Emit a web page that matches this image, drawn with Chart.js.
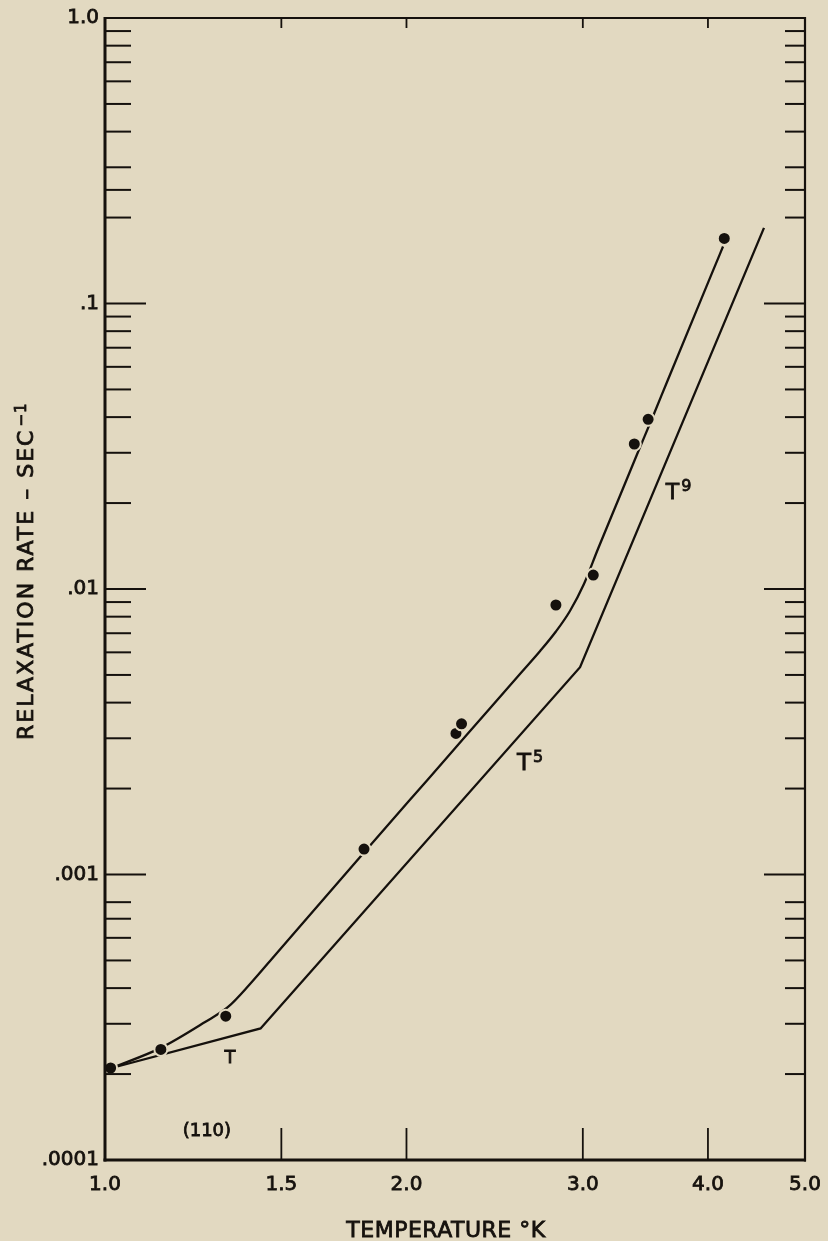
<!DOCTYPE html>
<html><head><meta charset="utf-8">
<script src="https://cdn.jsdelivr.net/npm/chart.js@4/dist/chart.umd.min.js"></script>
<style>html,body{margin:0;padding:0;background:#e2d9c1;}canvas{display:block;}</style>
</head><body>
<canvas id="c" width="828" height="1241"></canvas>
<script>
// ---- data ----
const pointTemperature = [1.013, 1.137, 1.320, 1.814, 2.241, 2.270, 2.820, 3.073, 3.377, 3.486, 4.153];
const pointRate = [2.10e-4, 2.44e-4, 3.19e-4, 1.228e-3, 3.12e-3, 3.37e-3, 8.79e-3, 1.119e-2, 3.22e-2, 3.93e-2, 0.169];

const fitTemperature = [1.0155, 1.137, 1.2587, 1.327, 1.3958, 1.4848, 1.814, 2.0966, 2.2987, 2.5963, 2.7196, 2.82, 2.9125, 3.0078, 3.1062, 3.2675, 3.397, 3.526, 3.6408, 4.0468, 4.141];
const fitRate = [2.10e-4, 2.47e-4, 3.043e-4, 3.435e-4, 4.134e-4, 5.311e-4, 1.1943e-3, 2.136e-3, 3.09e-3, 5.038e-3, 6.064e-3, 7.097e-3, 8.375e-3, 0.010412, 0.013807, 0.021211, 0.029536, 0.040355, 0.05311, 0.1303, 0.15835];

const powerTemperature = [1.0155, 1.43, 2.981, 4.55];
const powerRate = [2.10e-4, 2.89e-4, 5.32e-3, 0.184];

const xTickValues = [1.0, 1.5, 2.0, 3.0, 4.0, 5.0];
const xTickLabels = ['1.0', '1.5', '2.0', '3.0', '4.0', '5.0'];
const yTickValues = [0.0001, 0.001, 0.01, 0.1, 1.0];
const yTickLabels = ['.0001', '.001', '.01', '.1', '1.0'];
const yMinorTicks = [
  0.9, 0.8, 0.7, 0.6, 0.5, 0.4, 0.3, 0.25, 0.2,
  0.09, 0.08, 0.07, 0.06, 0.05, 0.04, 0.03, 0.02,
  0.009, 0.008, 0.007, 0.006, 0.005, 0.004, 0.003, 0.002,
  0.0008, 0.0007, 0.0006, 0.0005, 0.0004, 0.0003, 0.0002
];

const xTitle = 'TEMPERATURE °K';
const yTitle = 'RELAXATION RATE – SEC';
const yTitleSup = '−1';
const curveLabels = [
  { text: 'T', sup: '', t: 1.333, r: 2.30e-4 },
  { text: 'T', sup: '5', t: 2.62, r: 2.48e-3 },
  { text: 'T', sup: '9', t: 3.687, r: 0.0221 },
  { text: '(110)', sup: '', t: 1.264, r: 1.284e-4 }
];

// ---- styles ----
const INK = '#15110d';
const BG = '#e2d9c1';
const FONT = 'DejaVu Sans';
const labelSizes = [18, 23, 22, 18];

const decor = {
  id: 'decor',
  beforeDraw(chart) {
    const ctx = chart.ctx;
    ctx.save();
    ctx.fillStyle = BG;
    ctx.fillRect(0, 0, chart.width, chart.height);
    ctx.restore();
  },
  afterDatasetsDraw(chart) {
    const { ctx, chartArea: a, scales: { x, y } } = chart;
    ctx.save();
    ctx.strokeStyle = INK;
    ctx.fillStyle = INK;
    ctx.lineCap = 'butt';
    const seg = (x1, y1, x2, y2, w) => {
      ctx.lineWidth = w; ctx.beginPath(); ctx.moveTo(x1, y1); ctx.lineTo(x2, y2); ctx.stroke();
    };
    const txt = (s, px, py) => { ctx.lineWidth = 0.8; ctx.strokeText(s, px, py); ctx.fillText(s, px, py); };
    // frame
    seg(a.left, a.top - 1, a.left, a.bottom + 1.5, 3);
    seg(a.left - 1.5, a.bottom, a.right + 1, a.bottom, 3);
    seg(a.left, a.top, a.right + 1, a.top, 2);
    seg(a.right, a.top - 1, a.right, a.bottom + 1.5, 2.2);
    // y ticks
    yTickValues.forEach(v => {
      const py = y.getPixelForValue(v);
      seg(a.left, py, a.left + 41, py, 2);
      seg(a.right - 41, py, a.right, py, 2);
    });
    yMinorTicks.forEach(v => {
      const py = y.getPixelForValue(v);
      seg(a.left, py, a.left + 26, py, 2);
      seg(a.right - 20, py, a.right, py, 2);
    });
    // x ticks
    xTickValues.forEach(v => {
      if (v <= xTickValues[0] || v >= xTickValues[xTickValues.length - 1]) return;
      const px = x.getPixelForValue(v);
      seg(px, a.bottom, px, a.bottom - 32, 1.8);
      seg(px, a.top, px, a.top + 10, 1.8);
    });
    // curve labels
    curveLabels.forEach((l, i) => {
      const size = labelSizes[i];
      const cx = x.getPixelForValue(l.t);
      const cy = y.getPixelForValue(l.r);
      ctx.font = size + 'px "' + FONT + '"';
      ctx.textAlign = 'center';
      ctx.textBaseline = 'alphabetic';
      const base = cy + 0.3645 * size;
      txt(l.text, cx, base);
      if (l.sup) {
        const w = ctx.measureText(l.text).width;
        ctx.font = '16px "' + FONT + '"';
        ctx.textAlign = 'left';
        txt(l.sup, cx + w / 2 + 2, base - 8);
      }
    });
    // x title
    ctx.font = '22px "' + FONT + '"';
    ctx.letterSpacing = '0.5px';
    ctx.textAlign = 'center';
    ctx.textBaseline = 'alphabetic';
    txt(xTitle, 446, 1237);
    // y title
    ctx.save();
    ctx.translate(33, 740);
    ctx.rotate(-Math.PI / 2);
    ctx.letterSpacing = '2px';
    ctx.textAlign = 'left';
    txt(yTitle, 0, 0);
    const tw = ctx.measureText(yTitle).width;
    ctx.font = '15px "' + FONT + '"';
    ctx.letterSpacing = '1px';
    txt(yTitleSup, tw + 2, -7);
    ctx.restore();
    ctx.restore();
  }
};

const labelFor = (vals, labels) => (value) => {
  const i = vals.findIndex(v => Math.abs(v - value) < 1e-12);
  return i >= 0 ? labels[i] : '';
};

new Chart(document.getElementById('c'), {
  type: 'scatter',
  data: {
    datasets: [
      {
        label: 'measured',
        data: pointTemperature.map((t, i) => ({ x: t, y: pointRate[i] })),
        pointRadius: 6.5,
        pointBackgroundColor: INK,
        pointBorderColor: BG,
        pointBorderWidth: 2,
        showLine: false,
        clip: false,
        order: 0
      },
      {
        label: 'fit',
        data: fitTemperature.map((t, i) => ({ x: t, y: fitRate[i] })),
        showLine: true,
        pointRadius: 0,
        borderColor: INK,
        borderWidth: 2.3,
        cubicInterpolationMode: 'monotone',
        order: 2
      },
      {
        label: 'power laws',
        data: powerTemperature.map((t, i) => ({ x: t, y: powerRate[i] })),
        showLine: true,
        pointRadius: 0,
        borderColor: INK,
        borderWidth: 2.3,
        tension: 0,
        order: 1
      }
    ]
  },
  options: {
    responsive: false,
    devicePixelRatio: 1,
    animation: false,
    layout: { padding: { top: 18, right: 23, left: 0, bottom: 0 } },
    plugins: { legend: { display: false }, tooltip: { enabled: false } },
    scales: {
      x: {
        type: 'logarithmic',
        position: 'bottom',
        min: 1, max: 5,
        afterBuildTicks: s => { s.ticks = xTickValues.map(v => ({ value: v })); },
        afterFit: s => { s.height = 81; s.paddingLeft = 0; s.paddingRight = 0; },
        grid: { display: false, drawTicks: false },
        border: { display: false },
        ticks: {
          autoSkip: false, maxRotation: 0, minRotation: 0, padding: 13,
          color: INK, textStrokeColor: INK, textStrokeWidth: 0.8,
          font: { family: FONT, size: 20 },
          callback: labelFor(xTickValues, xTickLabels)
        }
      },
      y: {
        type: 'logarithmic',
        position: 'left',
        min: 0.0001, max: 1,
        afterBuildTicks: s => { s.ticks = yTickValues.map(v => ({ value: v })); },
        afterFit: s => { s.width = 105; s.paddingTop = 0; s.paddingBottom = 0; },
        grid: { display: false, drawTicks: false },
        border: { display: false },
        ticks: {
          autoSkip: false, padding: 6,
          color: INK, textStrokeColor: INK, textStrokeWidth: 0.8,
          font: { family: FONT, size: 20 },
          callback: labelFor(yTickValues, yTickLabels)
        }
      }
    }
  },
  plugins: [decor]
});
</script>
</body></html>
